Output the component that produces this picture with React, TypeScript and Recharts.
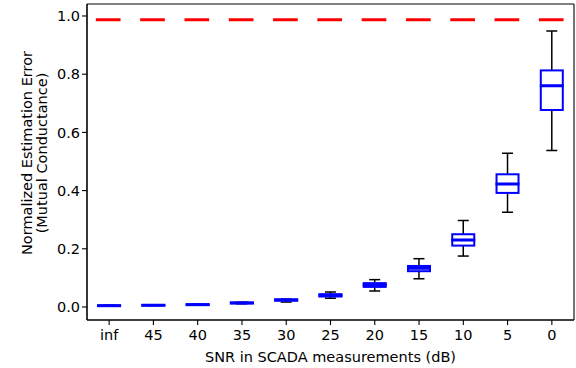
import React from 'react';
import { ComposedChart, Bar, XAxis, YAxis, ReferenceLine, CartesianGrid } from 'recharts';

// SNR levels on the x axis
const snrLabels = ['inf', '45', '40', '35', '30', '25', '20', '15', '10', '5', '0'];

// box plot statistics per SNR level
const whiskerLow = [0.003, 0.005, 0.007, 0.011, 0.017, 0.030, 0.055, 0.097, 0.175, 0.326, 0.538];
const q1 = [0.004, 0.0055, 0.0075, 0.0125, 0.022, 0.036, 0.069, 0.123, 0.211, 0.392, 0.677];
const median = [0.0045, 0.006, 0.008, 0.014, 0.024, 0.040, 0.076, 0.133, 0.230, 0.423, 0.760];
const q3 = [0.005, 0.0065, 0.009, 0.015, 0.026, 0.044, 0.082, 0.141, 0.250, 0.456, 0.813];
const whiskerHigh = [0.006, 0.007, 0.0095, 0.0165, 0.027, 0.0515, 0.094, 0.166, 0.297, 0.528, 0.948];

// reference error level (red dashed line)
const baselineError = 0.987;

const yTicks = [0, 0.2, 0.4, 0.6, 0.8, 1.0];

const data = snrLabels.map((snr, i) => ({
  snr,
  low: whiskerLow[i],
  q1: q1[i],
  med: median[i],
  q3: q3[i],
  high: whiskerHigh[i],
  range: [whiskerLow[i], whiskerHigh[i]],
}));

const FONT = 'DejaVu Sans';
const FS = 14.5;

const BoxShape = (props: any) => {
  const { x, y, width, height, payload } = props;
  const top = Math.min(y, y + height);
  const bottom = Math.max(y, y + height);
  const { low, high } = payload;
  const py = (v: number) => bottom - ((bottom - top) * (v - low)) / (high - low);
  const cx = x + width / 2;
  const capHalf = width / 4;
  return (
    <g>
      <line x1={cx} x2={cx} y1={py(low)} y2={py(payload.q1)} stroke="#000" strokeWidth={1.5} />
      <line x1={cx} x2={cx} y1={py(payload.q3)} y2={py(high)} stroke="#000" strokeWidth={1.5} />
      <line x1={cx - capHalf} x2={cx + capHalf} y1={py(low)} y2={py(low)} stroke="#000" strokeWidth={1.5} />
      <line x1={cx - capHalf} x2={cx + capHalf} y1={py(high)} y2={py(high)} stroke="#000" strokeWidth={1.5} />
      <rect
        x={x}
        y={py(payload.q3)}
        width={width}
        height={py(payload.q1) - py(payload.q3)}
        fill="none"
        stroke="#0000ff"
        strokeWidth={2}
      />
      <line x1={x - 1} x2={x + width + 1} y1={py(payload.med)} y2={py(payload.med)} stroke="#0000ff" strokeWidth={3} />
    </g>
  );
};

// red dashed line, spanning box positions 0.7 .. 11.3 of the category layout
const DashedBaseline = (props: any) => {
  const { x1, x2, y1 } = props;
  const at = (p: number) => x1 + ((x2 - x1) * (p - 0.5)) / snrLabels.length;
  return (
    <line x1={at(0.7)} x2={at(11.3)} y1={y1} y2={y1} stroke="#ff0000" strokeWidth={3} strokeDasharray="24.7 19.6" />
  );
};

const XLabel = ({ viewBox }: any) => (
  <text
    x={viewBox.x + viewBox.width / 2}
    y={viewBox.y + 41.5}
    textAnchor="middle"
    fontFamily={FONT}
    fontSize={FS}
    fill="#000"
  >
    SNR in SCADA measurements (dB)
  </text>
);

const YLabel = () => {
  const cy = 153;
  return (
    <g>
      <text x={31.5} y={cy} transform={`rotate(-90, 31.5, ${cy})`} textAnchor="middle" fontFamily={FONT} fontSize={FS} fill="#000">
        Normalized Estimation Error
      </text>
      <text x={47} y={cy} transform={`rotate(-90, 47, ${cy})`} textAnchor="middle" fontFamily={FONT} fontSize={FS} fill="#000">
        (Mutual Conductance)
      </text>
    </g>
  );
};

export default function App() {
  return (
    <div style={{ position: 'absolute', left: 0, top: 0, width: 576, height: 368, background: '#fff', fontFamily: FONT }}>
      <ComposedChart width={576} height={368} data={data} margin={{ top: 4, right: 2, left: 0, bottom: 0 }} barCategoryGap="25%">
        <CartesianGrid
          stroke="#000"
          strokeWidth={1.1}
          horizontalCoordinatesGenerator={({ offset }: any) => [offset.top, offset.top + offset.height]}
          verticalCoordinatesGenerator={({ offset }: any) => [offset.left, offset.left + offset.width]}
        />
        <XAxis
          dataKey="snr"
          height={48}
          tickSize={5}
          tickMargin={5}
          interval={0}
          stroke="#000"
          strokeWidth={1.1}
          tick={{ fill: '#000', fontSize: FS, fontFamily: FONT }}
          label={<XLabel />}
        />
        <YAxis
          width={87}
          domain={[-0.0447, 1.0412]}
          ticks={yTicks}
          tickFormatter={(v: number) => v.toFixed(1)}
          tickSize={5}
          tickMargin={2}
          stroke="#000"
          strokeWidth={1.1}
          allowDataOverflow
          tick={{ fill: '#000', fontSize: FS, fontFamily: FONT }}
          label={<YLabel />}
        />
        <ReferenceLine y={baselineError} shape={DashedBaseline} />
        <Bar dataKey="range" shape={<BoxShape />} isAnimationActive={false} />
      </ComposedChart>
    </div>
  );
}
